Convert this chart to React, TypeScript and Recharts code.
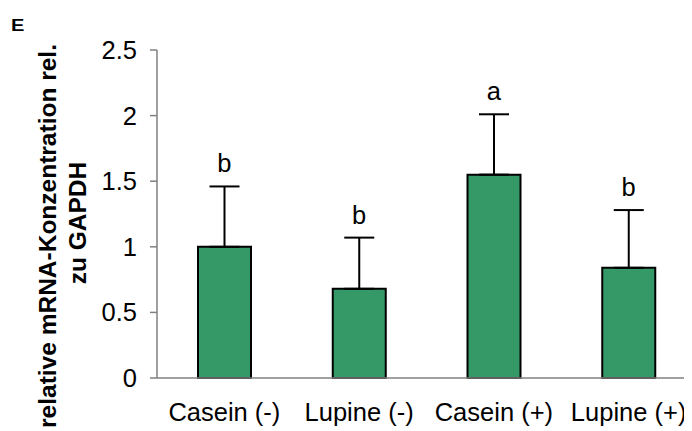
import React from "react";
import { ComposedChart, Bar, Line, XAxis, YAxis, ErrorBar, LabelList } from "recharts";

const categories = ["Casein (-)", "Lupine (-)", "Casein (+)", "Lupine (+)"];
const means = [1.0, 0.68, 1.55, 0.84];
const errors = [0.46, 0.39, 0.46, 0.44];
const letters = ["b", "b", "a", "b"];
const yTicks = [0, 0.5, 1, 1.5, 2, 2.5];

const data = categories.map((c, i) => ({
  name: c,
  mean: means[i],
  err: [0, errors[i]],
  top: means[i] + errors[i],
  letter: letters[i],
}));

const FONT = "'Liberation Sans', Arial, Helvetica, sans-serif";

const YLabel = () => (
  <g fontFamily={FONT} fontWeight="bold" fill="#000">
    <text x={0} y={0} style={{ fontSize: 16 }} transform="translate(11,31) scale(1.25,1)">E</text>
    <text
      x={56}
      y={236}
      style={{ fontSize: 24.5 }}
      textAnchor="middle"
      transform="rotate(-90, 56, 236)"
    >
      relative mRNA-Konzentration rel.
    </text>
    <text
      x={86}
      y={223}
      style={{ fontSize: 24.5 }}
      textAnchor="middle"
      transform="rotate(-90, 86, 223)"
    >
      zu GAPDH
    </text>
  </g>
);

export default function App() {
  return (
    <div style={{ marginLeft: -8, marginTop: -8, width: 692, height: 431, overflow: "hidden", background: "#fff" }}>
      <ComposedChart
        width={700}
        height={431}
        data={data}
        margin={{ top: 50, right: 4, bottom: 0, left: 0 }}
        barCategoryGap={0}
      >
        <XAxis
          dataKey="name"
          height={53}
          tickLine={false}
          tickSize={0}
          tickMargin={25}
          axisLine={{ stroke: "#808080", strokeWidth: 1.5 }}
          tick={{ fontSize: 25.5, fill: "#000", fontFamily: FONT }}
          interval={0}
        />
        <YAxis
          width={157}
          domain={[0, 2.5]}
          ticks={yTicks}
          tickSize={7}
          tickMargin={13}
          axisLine={{ stroke: "#808080", strokeWidth: 1.5 }}
          tickLine={{ stroke: "#808080", strokeWidth: 1.5 }}
          tick={{ fontSize: 25.5, fill: "#000", fontFamily: FONT }}
          label={{ content: () => <YLabel /> }}
        />
        <Bar dataKey="mean" fill="#349966" stroke="#000" strokeWidth={2} barSize={53} isAnimationActive={false}>
          <ErrorBar dataKey="err" width={15} stroke="#000" strokeWidth={2} direction="y" />
        </Bar>
        <Line dataKey="top" stroke="none" dot={false} activeDot={false} isAnimationActive={false}>
          <LabelList
            dataKey="letter"
            position="top"
            offset={14}
            fontSize={25.5}
            fill="#000"
            fontFamily={FONT}
          />
        </Line>
      </ComposedChart>
    </div>
  );
}
